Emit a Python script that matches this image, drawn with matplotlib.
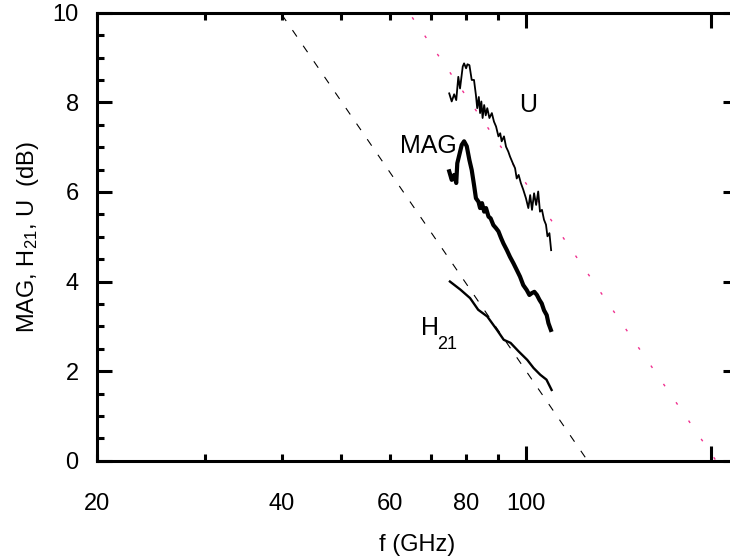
import numpy as np
import matplotlib
matplotlib.use('Agg')
import matplotlib.pyplot as plt

plt.rcParams['font.family'] = ['Liberation Sans', 'DejaVu Sans']
plt.rcParams['mathtext.fontset'] = 'custom'
plt.rcParams['mathtext.rm'] = 'Liberation Sans'
plt.rcParams['mathtext.it'] = 'Liberation Sans'

# measured unilateral gain U (dB)
f_u = [75.0, 75.7, 76.4, 77.0, 77.6, 78.1, 78.9, 79.3, 79.9, 80.3, 80.9, 81.6,
       82.3, 82.9, 83.3, 83.8, 84.2, 84.6, 85.0, 85.5, 86.0, 86.5, 87.2, 88.0,
       88.7, 89.4, 90.2, 90.8, 91.3, 92.1, 92.8, 93.6, 94.2, 95.2, 96.0, 96.6,
       97.3, 98.1, 99.0, 100.0, 100.9, 101.6, 102.3, 103.1, 103.9, 104.7,
       105.4, 106.2, 107.0, 107.8, 108.4, 109.2, 109.9]
u_db = [8.20, 8.02, 8.18, 8.05, 8.57, 8.31, 8.80, 8.87, 8.76, 8.85, 8.83, 8.50,
        8.50, 8.16, 7.87, 8.12, 7.76, 8.02, 7.65, 7.94, 7.71, 7.87, 7.65, 7.76,
        7.57, 7.46, 7.24, 7.31, 7.13, 7.24, 7.01, 6.90, 6.79, 6.64, 6.53, 6.30,
        6.38, 6.20, 6.05, 5.86, 5.64, 5.93, 5.60, 5.97, 5.71, 6.01,
        5.56, 5.60, 5.38, 5.27, 5.01, 5.08, 4.70]

# maximum available gain MAG (dB)
f_mag = [75.0, 75.7, 76.4, 77.0, 77.3, 77.9, 78.6, 79.3, 80.1, 80.9, 81.6, 82.3,
         82.9, 83.7, 84.2, 84.8, 85.5, 86.1, 86.9, 87.6, 88.5, 89.4, 90.2, 91.1,
         91.9, 93.1, 94.2, 95.4, 96.6, 97.8, 99.0, 100.3, 101.3, 102.2, 103.2,
         104.2, 105.2, 106.1, 107.0, 108.1, 108.8, 109.8]
mag_db = [6.46, 6.27, 6.38, 6.20, 6.64, 6.83, 7.05, 7.13, 7.02, 6.71, 6.49, 6.16,
          5.86, 5.78, 5.64, 5.75, 5.56, 5.64, 5.45, 5.41, 5.26, 5.19, 5.12, 4.97,
          4.85, 4.70, 4.55, 4.41, 4.26, 4.11, 3.92, 3.81, 3.70, 3.74, 3.77,
          3.70, 3.59, 3.51, 3.36, 3.25, 3.07, 2.92]

# current gain H21 (dB)
f_h21 = [75.2, 78.2, 81.1, 83.6, 86.5, 89.7, 92.0, 94.4, 97.3, 100.5, 102.9,
         105.5, 108.0, 110.1]
h21_db = [4.00, 3.82, 3.63, 3.37, 3.22, 2.92, 2.70, 2.63, 2.44, 2.25, 2.07,
          1.92, 1.81, 1.58]

# -20 dB/dec extrapolations
f_t = 126.0
f_max = 204.0

fig = plt.figure(figsize=(7.30, 5.59), dpi=100)
ax = fig.add_axes([0.1325, 0.1758, 0.8785, 0.8014])

f_line = np.array([20.0, 230.0])
ax.plot(f_line, 20 * np.log10(f_t / f_line), color='black', lw=0.8,
        dashes=(7, 10))
ax.plot(f_line, 20 * np.log10(f_max / f_line), color='#f0308f', lw=1.0,
        dashes=(2, 14))

ax.plot(f_u, u_db, color='black', lw=1.3)
ax.plot(f_mag, mag_db, color='black', lw=3.0)
ax.plot(f_h21, h21_db, color='black', lw=1.7)

ax.text(97.5, 7.78, 'U', fontsize=18, ha='left', va='baseline')
ax.text(62.3, 6.86, 'MAG', fontsize=18, ha='left', va='baseline')
ax.text(67.4, 2.80, 'H', fontsize=18, ha='left', va='baseline')
ax.text(71.6, 2.49, '21', fontsize=13, ha='left', va='baseline')

ax.set_xscale('log')
ax.set_xlim(20, 221.5)
ax.set_ylim(0, 10)

ax.set_xticks([20, 40, 60, 80, 100, 200], ['20', '40', '60', '80', '100', ''])
ax.set_xticks([30, 50, 70, 90], minor=True)
ax.xaxis.set_minor_formatter(matplotlib.ticker.NullFormatter())
ax.set_yticks([0, 2, 4, 6, 8, 10])
ax.set_yticks(np.arange(0, 10.01, 0.5), minor=True)

ax.tick_params(which='both', direction='in', top=True, right=True, width=2.2,
               labelsize=17)
ax.tick_params(axis='x', which='both', length=5, pad=23)
ax.tick_params(axis='y', which='major', length=10.8, pad=13)
ax.tick_params(axis='y', which='minor', length=5)
for t in ax.xaxis.get_major_ticks():
    if t.get_loc() in (100, 200):
        t.tick1line.set_markersize(10.8)
        t.tick2line.set_markersize(10.8)

for s in ax.spines.values():
    s.set_linewidth(2.2)

ax.set_xlabel('f (GHz)', fontsize=17, labelpad=14)
ax.set_ylabel(r'MAG, H$_{\mathrm{21}}$, U  (dB)', fontsize=17, labelpad=8)

fig.savefig('out.png', dpi=100)
